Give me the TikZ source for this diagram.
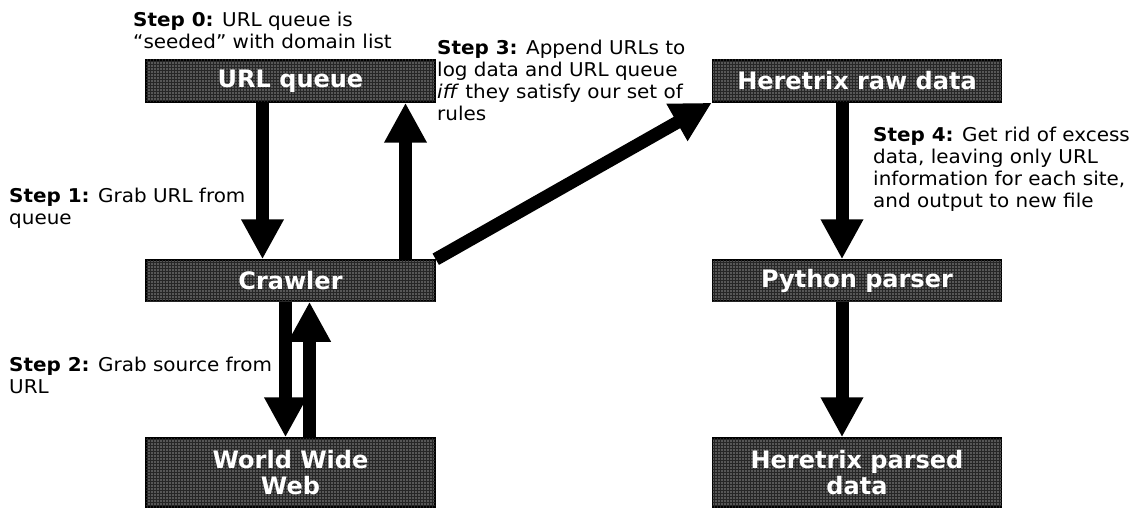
\documentclass[tikz,border=0pt]{standalone}
\usepackage{fontspec}
\setmainfont{DejaVu Sans}
\newfontfamily\widesans[FakeStretch=1.05]{DejaVu Sans}
\usetikzlibrary{arrows.meta, patterns}

\tikzset{
  stagebox/.style={draw=black, line width=1.5pt, fill=black!66, text=white,
    font=\fontsize{24}{26}\selectfont\bfseries, minimum width=289pt,
    align=center, inner sep=0pt,
    postaction={pattern=grid, pattern color=black!85}},
  bigarrow/.style={line width=13pt, -{Triangle[length=40pt, width=40pt]}},
  steptext/.style={anchor=north west, align=left, inner sep=0pt,
    font=\widesans\fontsize{19}{22}\selectfont}
}

\begin{document}
\begin{tikzpicture}[x=1pt, y=-1pt]
\useasboundingbox (0,0) rectangle (1130,508);
% boxes
\node [stagebox, minimum height=42pt] (urlq) at (290.5, 81) {URL queue};
\node [stagebox, minimum height=41pt] (crawler) at (290.5, 280.5) {Crawler};
\node [stagebox, minimum height=69pt] (www) at (290.5, 472.5) {World Wide\\Web};
\node [stagebox, minimum height=42pt] (raw) at (857, 81) {Heretrix raw data};
\node [stagebox, minimum height=41pt] (parser) at (857, 280.5) {Python parser};
\node [stagebox, minimum height=69pt] (parsed) at (857, 472.5) {Heretrix parsed\\data};
% arrows
\draw [bigarrow] ([xshift=-28pt]urlq.south) -- ([xshift=-28pt]crawler.north);
\draw [bigarrow] ([xshift=115pt]crawler.north) -- ([xshift=115pt]urlq.south);
\draw [bigarrow] (crawler.north east) -- (raw.south west);
\draw [bigarrow] ([xshift=-5pt]crawler.south) -- ([xshift=-5pt]www.north);
\draw [bigarrow] ([xshift=19pt]www.north) -- ([xshift=19pt]crawler.south);
\draw [bigarrow] ([xshift=-15pt]raw.south) -- ([xshift=-15pt]parser.north);
\draw [bigarrow] ([xshift=-15pt]parser.south) -- ([xshift=-15pt]parsed.north);
% step labels
\node [steptext] (step0) at (133, 12) {\textbf{Step 0:} URL queue is\\“seeded” with domain list};
\node [steptext] (step1) at (9, 188) {\textbf{Step 1:} Grab URL from\\queue};
\node [steptext] (step2) at (9, 357) {\textbf{Step 2:} Grab source from\\URL};
\node [steptext] (step3) at (437, 40) {\textbf{Step 3:} Append URLs to\\log data and URL queue\\\textit{iff} they satisfy our set of\\rules};
\node [steptext] (step4) at (873, 127) {\textbf{Step 4:} Get rid of excess\\data, leaving only URL\\information for each site,\\and output to new file};
\end{tikzpicture}
\end{document}
